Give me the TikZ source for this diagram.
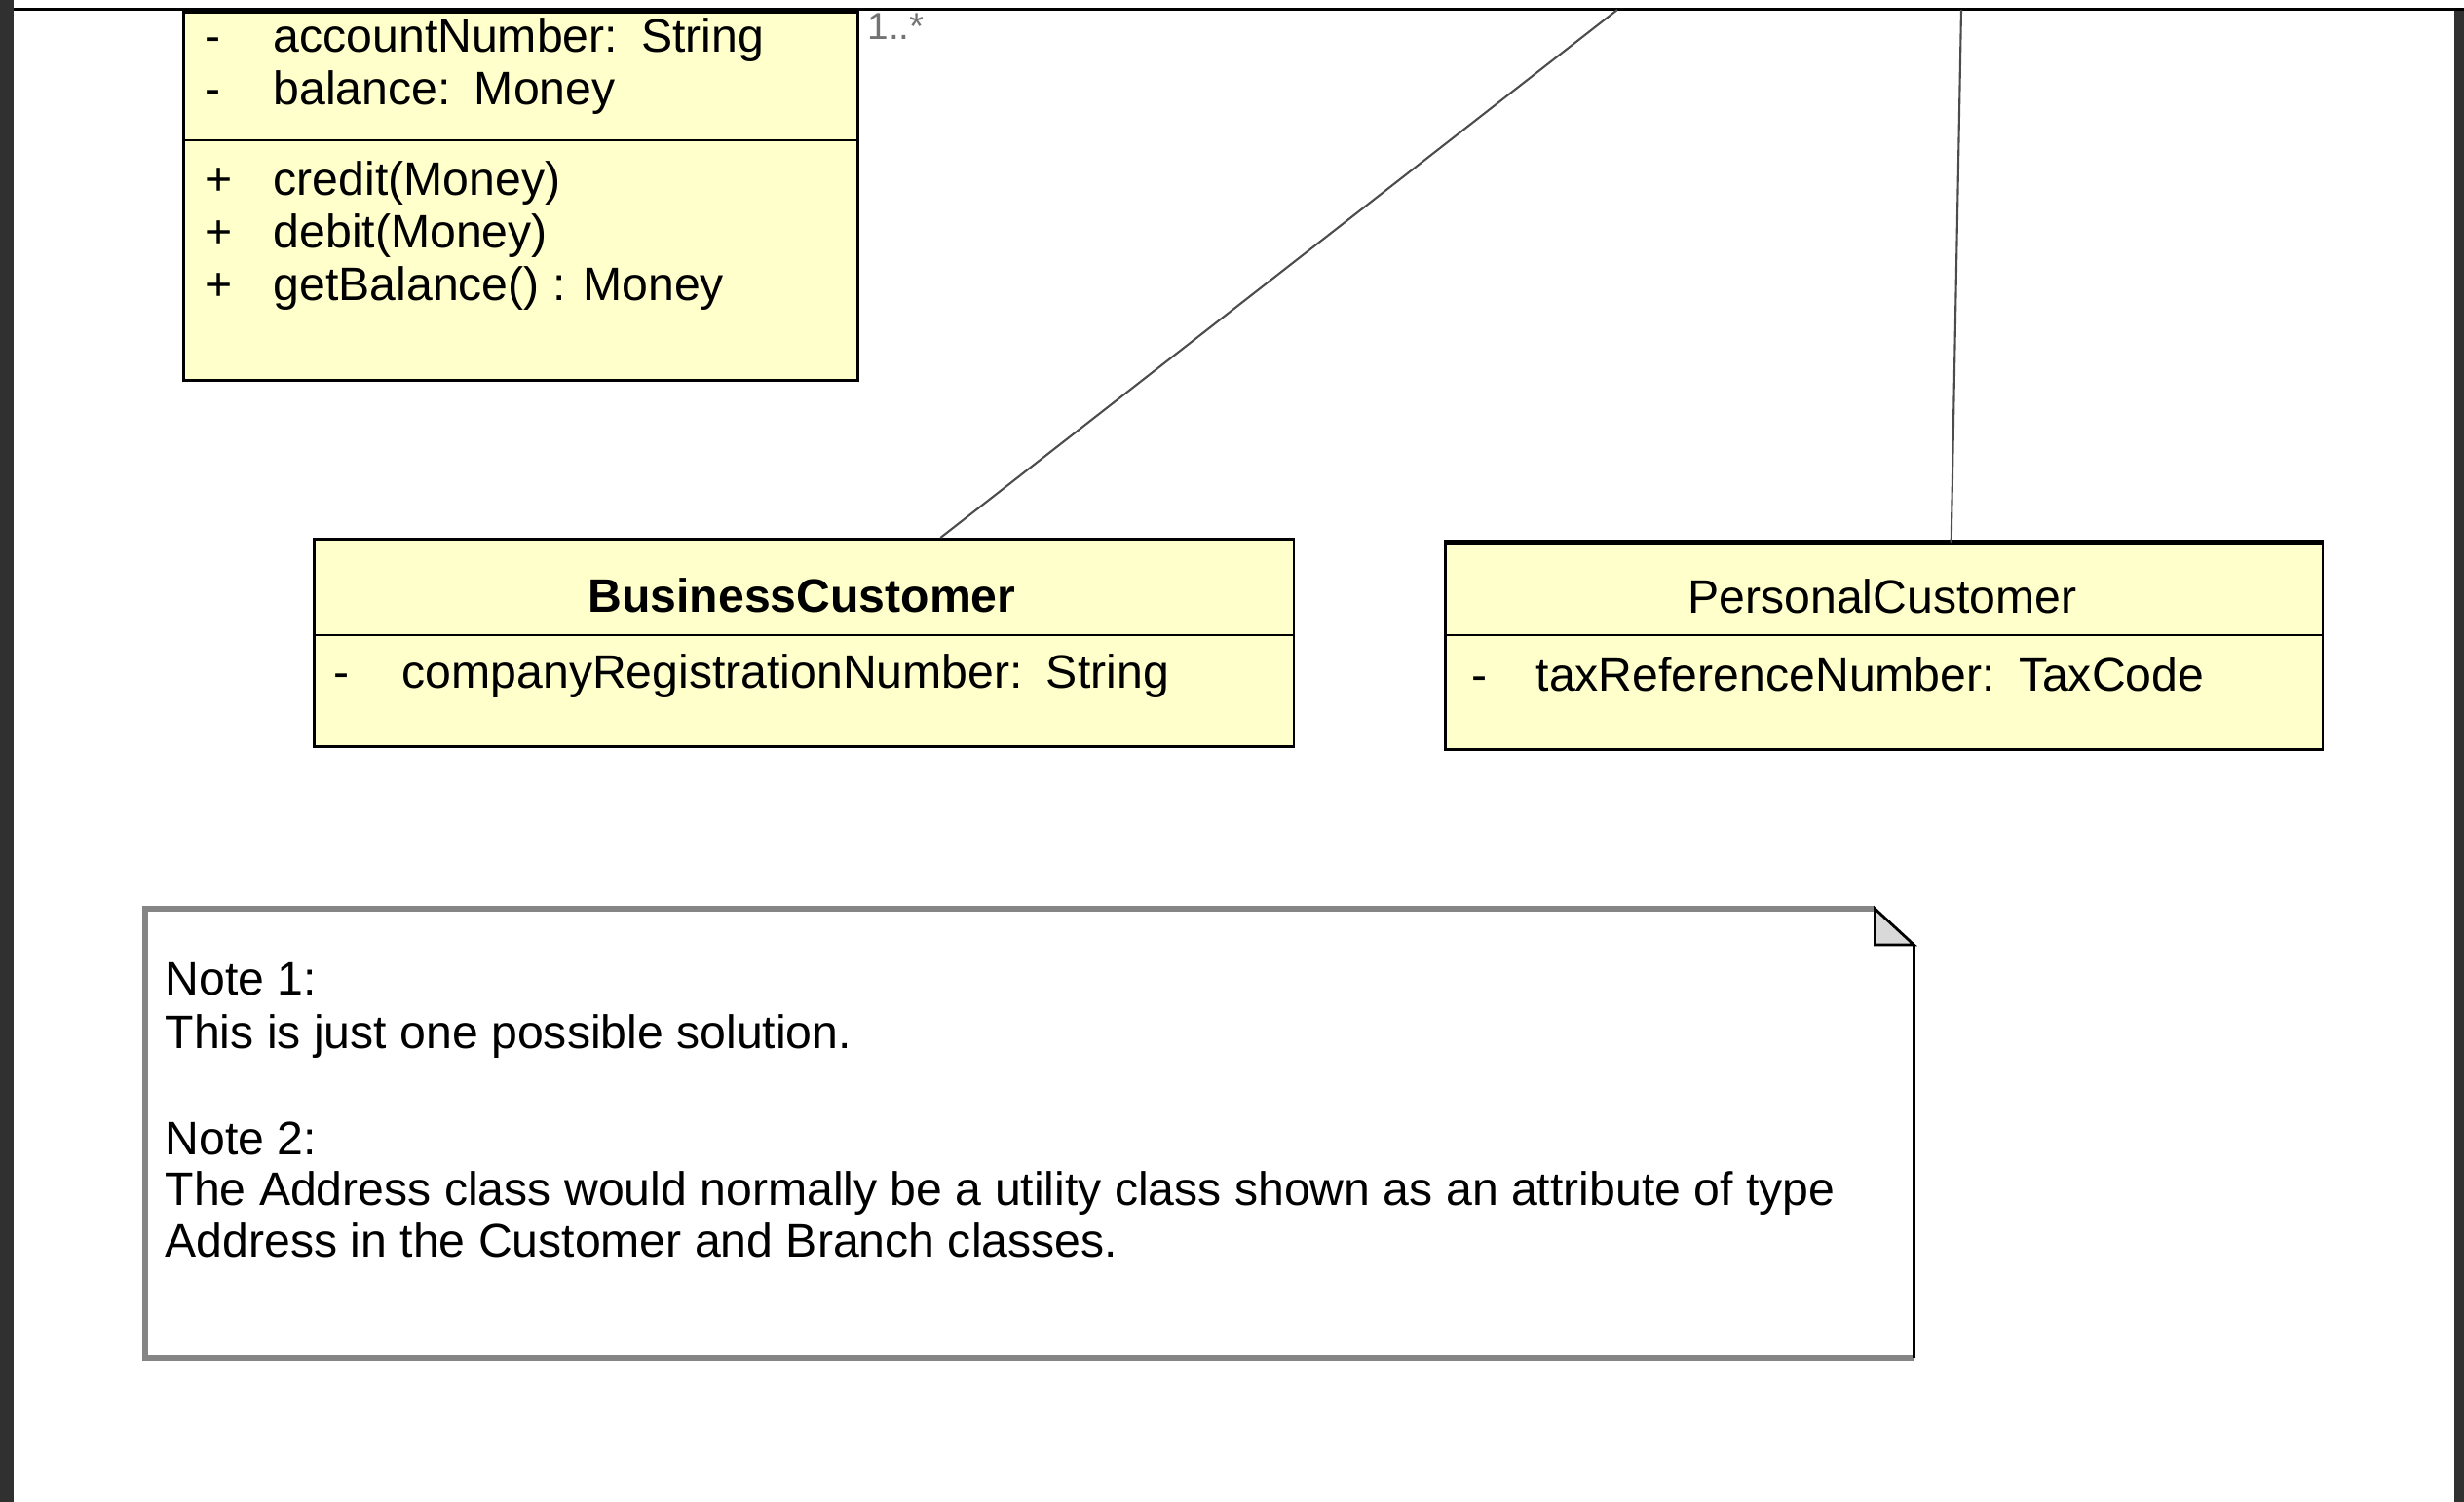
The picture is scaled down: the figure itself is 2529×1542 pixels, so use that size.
\documentclass[tikz,border=0pt]{standalone}
\usepackage{fontspec}
\setmainfont{Liberation Sans}
\definecolor{classfill}{HTML}{FFFFCC}
\definecolor{framegray}{HTML}{303030}
\definecolor{notegray}{HTML}{858585}
\newcommand{\vsb}[1]{\makebox[0.7cm][l]{#1}}

\begin{document}
\begin{tikzpicture}[x=0.01cm,y=-0.01cm,
   font=\fontsize{13.7}{15.6}\selectfont,
   cls/.style={draw=black,line width=0.8pt,fill=classfill,rectangle,inner sep=0pt,anchor=north west},
   txt/.style={anchor=base west,inner sep=0pt},
   title/.style={anchor=base,inner sep=0pt},
   link/.style={draw=black!70,line width=0.6pt}]
   \useasboundingbox (0,0) rectangle (2529,1542);
   \fill[framegray] (0,0) rectangle (14,1542);
   \fill[framegray] (2519,11) rectangle (2529,1542);
   \fill[black] (14,8) rectangle (2529,11);

   \node[cls,minimum width=6.92cm,minimum height=3.78cm] (account) at (187,11) {};
   \draw[line width=0.8pt] (account.west |- 0,144) -- (account.east |- 0,144);
   \node[txt] (accNumber)  at (210,53)  {\vsb{-}accountNumber:\enspace String};
   \node[txt] (accBalance) at (210,107) {\vsb{-}balance:\enspace Money};
   \node[txt] (accCredit)  at (210,200) {\vsb{+}credit(Money)};
   \node[txt] (accDebit)   at (210,254) {\vsb{+}debit(Money)};
   \node[txt] (accGet)     at (210,308) {\vsb{+}getBalance() : Money};
   \node[txt,font=\fontsize{11}{13}\selectfont,text=black!55] (accMult) at (890,40) {1..*};

   \node[cls,minimum width=10.05cm,minimum height=2.13cm] (business) at (321,552) {};
   \draw[line width=0.8pt] (business.west |- 0,652) -- (business.east |- 0,652);
   \node[title,font=\fontsize{13.7}{15.6}\selectfont\bfseries] (bcName) at (823,628) {BusinessCustomer};
   \node[txt] (bcReg) at (342,706) {\vsb{-}companyRegistrationNumber:\enspace String};

   \node[cls,minimum width=9.00cm,minimum height=2.11cm] (personal) at (1482,557) {};
   \draw[line width=1.6pt] (personal.north west) -- (personal.north east);
   \draw[line width=0.8pt] (personal.west |- 0,652) -- (personal.east |- 0,652);
   \node[title] (pcName) at (1932,629) {PersonalCustomer};
   \node[txt] (pcTax) at (1510,709) {\makebox[0.66cm][l]{-}taxReferenceNumber:\enspace TaxCode};

   \coordinate (bcFrom) at (1660,10);
   \coordinate (pcFrom) at (2013,10);
   \draw[link] (bcFrom) -- ([xshift=1.4cm]business.north);
   \draw[link] (pcFrom) -- ([xshift=0.69cm]personal.north);

   \node[rectangle,fill=white,inner sep=0pt,anchor=north west,minimum width=18.13cm,minimum height=4.59cm] (note) at (149,933) {};
   \coordinate (foldA) at ([xshift=-0.4cm]note.north east);
   \coordinate (foldB) at ([xshift=-0.4cm,yshift=-0.37cm]note.north east);
   \coordinate (foldC) at ([yshift=-0.37cm]note.north east);
   \draw[notegray,line width=1.6pt] (foldA) -- (note.north west) -- (note.south west) -- (note.south east);
   \filldraw[fill=black!15,draw=black,line width=0.8pt] (foldA) -- (foldB) -- (foldC) -- cycle;
   \draw[line width=0.6pt] (foldC) -- (note.south east);
   \node[txt] (note1)  at (169,1021) {Note 1:};
   \node[txt] (note1a) at (169,1076) {This is just one possible solution.};
   \node[txt] (note2)  at (169,1185) {Note 2:};
   \node[txt] (note2a) at (169,1237) {The Address class would normally be a utility class shown as an attribute of type};
   \node[txt] (note2b) at (169,1290) {Address in the Customer and Branch classes.};
\end{tikzpicture}
\end{document}
